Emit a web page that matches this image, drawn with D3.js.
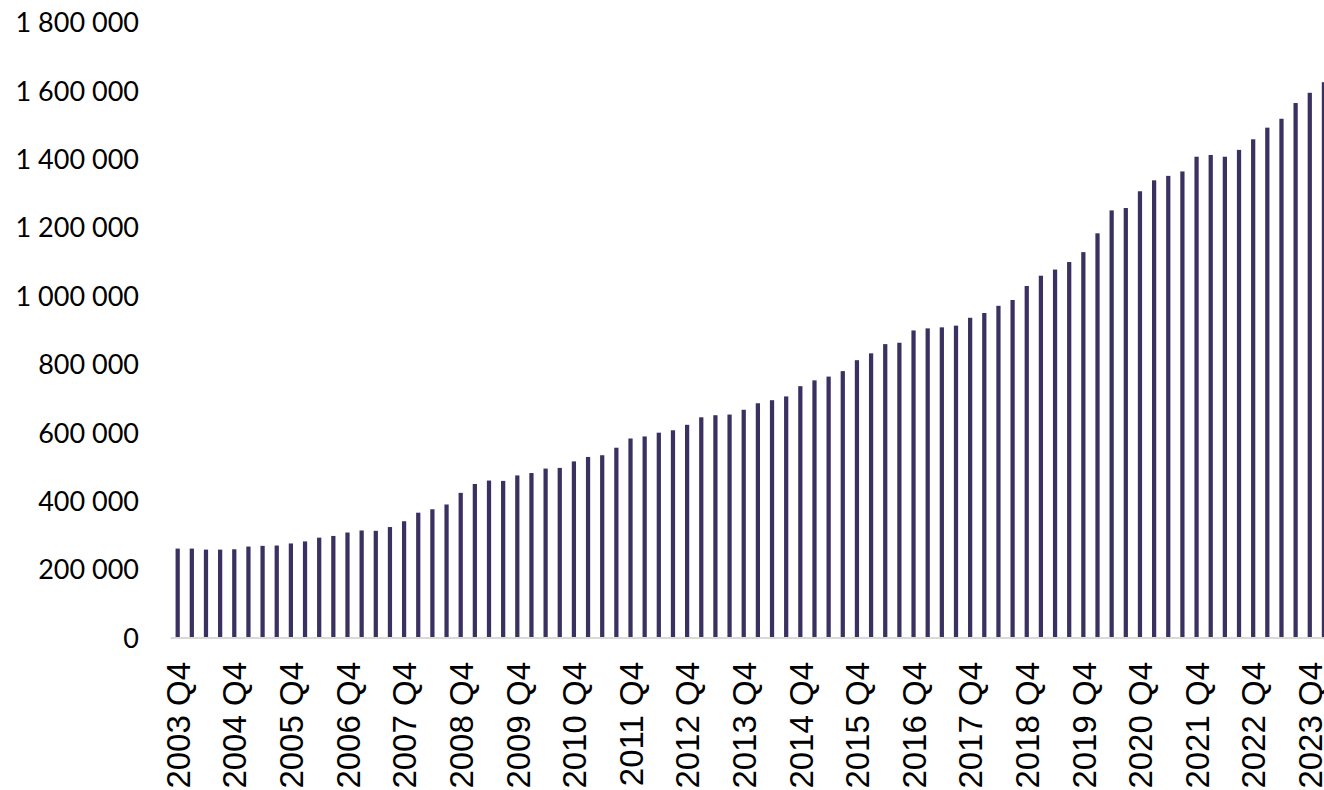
<!DOCTYPE html>
<html>
<head>
<meta charset="utf-8">
<script src="https://cdn.jsdelivr.net/npm/d3@7"></script>
<style>
  html, body { margin: 0; padding: 0; background: #fff; overflow: hidden; }
</style>
</head>
<body>
<div id="chart"></div>
<script>
// first quarter shown is 2003 Q4, last one 2024 Q1
const firstYear = 2003;
const quarters = ["Q1", "Q2", "Q3", "Q4"];

// values
const values = [
  260000, 260000, 257000, 257000, 258000, 266000, 268000, 269000, 275000, 281000,
  292000, 297000, 307000, 313000, 312000, 323000, 340000, 365000, 375000, 389000,
  423000, 449000, 459000, 458000, 474000, 481000, 494000, 496000, 515000, 528000,
  533000, 555000, 582000, 588000, 599000, 606000, 622000, 644000, 650000, 652000,
  666000, 685000, 694000, 705000, 735000, 752000, 763000, 779000, 811000, 831000,
  858000, 862000, 898000, 904000, 907000, 912000, 935000, 949000, 970000, 987000,
  1028000, 1058000, 1076000, 1098000, 1127000, 1182000, 1249000, 1256000, 1305000, 1337000,
  1350000, 1363000, 1406000, 1411000, 1406000, 1426000, 1457000, 1491000, 1517000, 1563000,
  1593000, 1624000
];

const yTicks = [0, 200000, 400000, 600000, 800000, 1000000, 1200000, 1400000, 1600000, 1800000];

// category labels: one per quarter, starting at Q4
const categories = values.map((v, i) => {
  const q = 3 + i;
  return (firstYear + Math.floor(q / 4)) + " " + quarters[q % 4];
});
const labelled = categories.filter(c => c.endsWith("Q4"));

const width = 1324;
const height = 790;

const svg = d3.select("#chart")
  .append("svg")
  .attr("width", width)
  .attr("height", height);

const x = d3.scaleBand()
  .domain(categories)
  .range([170.6, 1331])
  .paddingInner(0.7)
  .paddingOuter(0.35);

const y = d3.scaleLinear()
  .domain([0, 1800000])
  .range([637.5, 22]);

const fmt = d3.formatLocale({ decimal: ",", thousands: " ", grouping: [3], currency: ["", ""] }).format(",d");

// y axis, labels only
const yAxis = svg.append("g")
  .attr("transform", "translate(139,0)")
  .call(d3.axisLeft(y).tickValues(yTicks).tickSize(0).tickPadding(0).tickFormat(fmt));
yAxis.select(".domain").remove();
yAxis.selectAll("text")
  .attr("font-family", "Lato, 'Open Sans', sans-serif")
  .attr("font-size", "27px")
  .attr("fill", "#000")
  .attr("dy", "0.36em");

// bars
svg.append("g")
  .selectAll("rect")
  .data(values)
  .join("rect")
  .attr("x", (d, i) => x(categories[i]))
  .attr("y", d => y(d))
  .attr("width", x.bandwidth())
  .attr("height", d => y(0) - y(d))
  .attr("fill", "#3b3160");

// baseline
svg.append("line")
  .attr("x1", x.range()[0])
  .attr("x2", x.range()[1])
  .attr("y1", y(0) + 0.5)
  .attr("y2", y(0) + 0.5)
  .attr("stroke", "#d9d9d9")
  .attr("stroke-width", 2);

// x axis, rotated labels every fourth quarter
const xAxis = svg.append("g")
  .attr("transform", "translate(0,662)")
  .call(d3.axisBottom(x).tickValues(labelled).tickSize(0).tickPadding(0));
xAxis.select(".domain").remove();
xAxis.selectAll("text")
  .attr("font-family", "'Liberation Sans', Arial, sans-serif")
  .attr("font-size", "33px")
  .attr("fill", "#000")
  .attr("text-anchor", "end")
  .attr("transform", "rotate(-90)")
  .attr("x", 0)
  .attr("y", 0)
  .attr("dy", "0.37em");
</script>
</body>
</html>
